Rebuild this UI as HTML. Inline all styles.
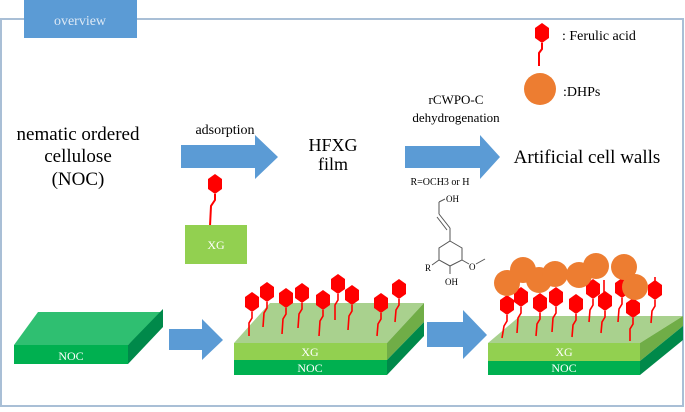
<!DOCTYPE html>
<html><head><meta charset="utf-8"><style>
html,body{margin:0;padding:0;background:#fff;}
svg{display:block;}
text{font-family:"Liberation Serif",serif;}
</style></head><body>
<svg width="685" height="412" viewBox="0 0 685 412" xmlns="http://www.w3.org/2000/svg">
<defs>
<g id="hex"><polygon points="0,-10 7,-5 7,5 0,10 -7,5 -7,-5" fill="#ff0000"/></g>
</defs>
<rect x="1" y="19" width="682" height="387" fill="#fff" stroke="#a9bfd6" stroke-width="2"/>
<rect x="24" y="0" width="113" height="38" fill="#5b9bd5"/>
<text x="80" y="25" font-size="14" fill="#dde9f5" text-anchor="middle">overview</text>

<!-- legend -->
<use href="#hex" x="542" y="33"/>
<polyline points="542,43 542,49 539,53 539,66" fill="none" stroke="#ff0000" stroke-width="2"/>
<text x="562" y="40" font-size="14" fill="#000">: Ferulic acid</text>
<ellipse cx="540" cy="89" rx="16" ry="16" fill="#ed7d31"/>
<text x="563" y="96" font-size="14" fill="#000">:DHPs</text>

<!-- top row -->
<g font-size="19" fill="#000" text-anchor="middle">
<text x="78" y="140">nematic ordered</text>
<text x="78" y="162">cellulose</text>
<text x="78" y="185">(NOC)</text>
</g>
<text x="225" y="134" font-size="14" text-anchor="middle">adsorption</text>
<polygon points="181,145 255,145 255,135 278,157 255,179 255,168 181,168" fill="#5b9bd5"/>
<text x="333" y="151" font-size="18" text-anchor="middle">HFXG</text>
<text x="333" y="170" font-size="18" text-anchor="middle">film</text>
<text x="456" y="104" font-size="13" text-anchor="middle">rCWPO-C</text>
<text x="456" y="122" font-size="13" text-anchor="middle">dehydrogenation</text>
<polygon points="405,146 480,146 480,135 500,157 480,179 480,168 405,168" fill="#5b9bd5"/>
<text x="587" y="163" font-size="19" text-anchor="middle">Artificial cell walls</text>
<text x="440" y="185" font-size="10" text-anchor="middle">R=OCH3 or H</text>

<!-- XG single -->
<use href="#hex" x="215" y="184"/>
<polyline points="215,194 215,200 211,206 210,226" fill="none" stroke="#ff0000" stroke-width="2"/>
<rect x="185" y="225" width="62" height="39" fill="#92d050"/>
<text x="216" y="249" font-size="12" fill="#fff" text-anchor="middle">XG</text>

<!-- chem -->
<g stroke="#555" stroke-width="1" fill="none">
<polygon points="450,241 462,248 462,260 450,266 439,260 439,248"/>
<line x1="450" y1="241" x2="450" y2="228"/>
<line x1="450" y1="228" x2="439" y2="214"/>
<line x1="447" y1="230" x2="437" y2="217"/>
<line x1="439" y1="214" x2="439" y2="202"/>
<line x1="439" y1="202" x2="445" y2="199"/>
<line x1="450" y1="266" x2="450" y2="274"/>
<line x1="439" y1="260" x2="432" y2="265"/>
<line x1="462" y1="260" x2="469" y2="264"/>
<line x1="476" y1="264" x2="485" y2="259"/>
</g>
<g font-size="9" fill="#000">
<text x="446" y="202">OH</text>
<text x="445" y="285">OH</text>
<text x="425" y="271">R</text>
<text x="469" y="270">O</text>
</g>

<!-- slab 1 -->
<polygon points="14,345 38,312 163,312 128,345" fill="#2fbf71"/>
<polygon points="128,345 163,309 163,327 128,364" fill="#00894a"/>
<rect x="14" y="345" width="114" height="19" fill="#00b050"/>
<text x="71" y="360" font-size="12" fill="#fff" text-anchor="middle">NOC</text>

<polygon points="169,329 202,329 202,319 223,340 202,360 202,350 169,350" fill="#5b9bd5"/>

<!-- slab 2 -->
<polygon points="234,343 270,303 424,303 387,343" fill="#a9d18e"/>
<polygon points="387,343 424,303 424,322 387,360" fill="#70ad47"/>
<polygon points="387,360 424,322 424,336 387,375" fill="#00894a"/>
<rect x="234" y="343" width="153" height="17" fill="#92d050"/>
<rect x="234" y="360" width="153" height="15" fill="#00b050"/>
<text x="310" y="356" font-size="12" fill="#fff" text-anchor="middle">XG</text>
<text x="310" y="372" font-size="12" fill="#fff" text-anchor="middle">NOC</text>
<g fill="none" stroke="#ff0000" stroke-width="1.6">
<polyline points="252,312 252,318 249,323 249,336"/>
<polyline points="267,302 267,308 264,313 263,327"/>
<polyline points="286,308 286,314 283,319 282,334"/>
<polyline points="302,303 302,309 299,314 298,328"/>
<polyline points="323,310 323,316 320,321 319,336"/>
<polyline points="338,294 338,300 335,305 335,320"/>
<polyline points="352,305 352,311 349,316 348,330"/>
<polyline points="381,313 381,319 378,324 377,336"/>
<polyline points="399,299 399,305 396,310 395,322"/>
</g>
<use href="#hex" x="252" y="302"/><use href="#hex" x="267" y="292"/><use href="#hex" x="286" y="298"/>
<use href="#hex" x="302" y="293"/><use href="#hex" x="323" y="300"/><use href="#hex" x="338" y="284"/>
<use href="#hex" x="352" y="295"/><use href="#hex" x="381" y="303"/><use href="#hex" x="399" y="289"/>

<polygon points="427,322 463,322 463,310 487,335 463,359 463,347 427,347" fill="#5b9bd5"/>

<!-- slab 3 -->
<polygon points="488,343 520,316 683,316 640,343" fill="#a9d18e"/>
<polygon points="640,343 683,316 683,326 640,361" fill="#70ad47"/>
<polygon points="640,361 683,326 683,340 640,375" fill="#00894a"/>
<rect x="488" y="343" width="152" height="18" fill="#92d050"/>
<rect x="488" y="361" width="152" height="14" fill="#00b050"/>
<text x="564" y="356" font-size="12" fill="#fff" text-anchor="middle">XG</text>
<text x="564" y="372" font-size="12" fill="#fff" text-anchor="middle">NOC</text>
<g fill="none" stroke="#ff0000" stroke-width="1.6">
<polyline points="507,315 507,321 504,326 502,338"/>
<polyline points="521,307 521,313 518,318 517,333"/>
<polyline points="540,313 540,319 537,324 536,336"/>
<polyline points="556,307 556,313 553,318 552,332"/>
<polyline points="576,314 576,320 573,325 572,337"/>
<polyline points="593,299 593,305 590,310 589,322"/>
<polyline points="605,311 605,317 602,322 601,333"/>
<polyline points="622,298 622,304 619,309 618,322"/>
<polyline points="633,318 633,324 630,329 630,341"/>
<polyline points="655,300 655,306 652,311 651,323"/>
<polyline points="604,280 604,300"/>
<polyline points="655,277 655,285"/>
</g>
<use href="#hex" x="507" y="305"/><use href="#hex" x="521" y="297"/><use href="#hex" x="540" y="303"/>
<use href="#hex" x="556" y="297"/><use href="#hex" x="576" y="304"/><use href="#hex" x="593" y="289"/>
<use href="#hex" x="605" y="301"/><use href="#hex" x="622" y="288"/><use href="#hex" x="633" y="308"/>
<use href="#hex" x="655" y="290"/>
<g fill="#ed7d31">
<ellipse cx="507" cy="283" rx="13" ry="13"/><ellipse cx="523" cy="270" rx="13" ry="13"/>
<ellipse cx="539" cy="280" rx="13" ry="13"/><ellipse cx="555" cy="274" rx="13" ry="13"/>
<ellipse cx="579" cy="275" rx="13" ry="13"/><ellipse cx="596" cy="266" rx="13" ry="13"/>
<ellipse cx="624" cy="267" rx="13" ry="13"/><ellipse cx="635" cy="287" rx="13" ry="13"/>
</g>
</svg>
</body></html>
